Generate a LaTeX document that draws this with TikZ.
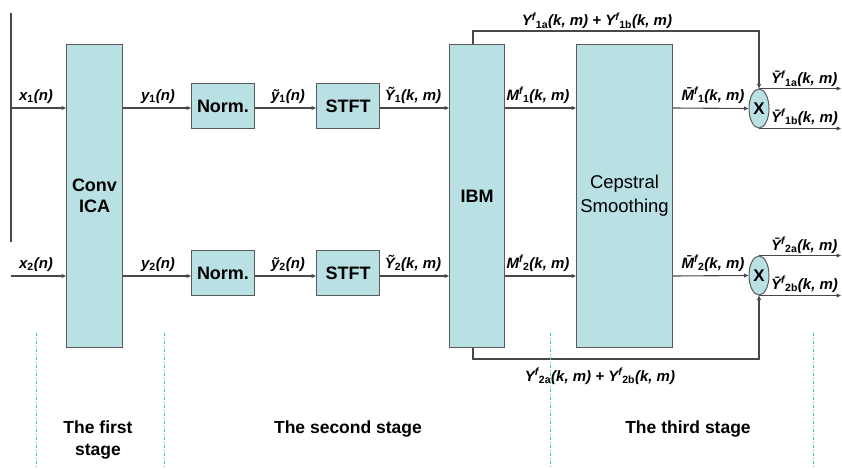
\documentclass[tikz,border=0pt]{standalone}
\usepackage{fontspec}
\setmainfont{Liberation Sans}
\usetikzlibrary{arrows.meta,shapes.geometric}
\definecolor{boxfill}{HTML}{B9E1E4}
\definecolor{boxline}{HTML}{5A5A5A}
\definecolor{wire}{HTML}{484848}
\definecolor{stagegreen}{HTML}{3CCB7F}
\newcommand\sbs[1]{\textsubscript{\upshape #1}}
\newcommand\spr[1]{\textsuperscript{#1}}
\begin{document}
\begin{tikzpicture}[x=1pt,y=-1pt,
  blk/.style={draw=boxline,line width=1pt,fill=boxfill,anchor=north west,inner sep=0pt,
    font=\fontsize{18}{21}\selectfont\bfseries,align=center},
  mult/.style={ellipse,draw=boxline,line width=1pt,fill=boxfill,minimum width=20pt,minimum height=39pt,
    inner sep=0pt,font=\fontsize{17}{20}\selectfont\bfseries},
  wr/.style={draw=wire,line width=1.1pt},
  arr/.style={wr,-{Triangle[length=4.5pt,width=3.8pt]}},
  lab/.style={anchor=base,inner sep=0pt,font=\fontsize{15}{18}\selectfont\bfseries\itshape},
  stg/.style={anchor=base,inner sep=0pt,font=\fontsize{17.5}{22}\selectfont\bfseries,align=center},
  sep/.style={draw=stagegreen,line width=0.9pt,dash pattern=on 3pt off 2pt on 1pt off 2pt}]
\useasboundingbox (0,0) rectangle (842,468);
% rows
\coordinate (r1) at (0,108);
\coordinate (r2) at (0,276);
% blocks
\node[blk,minimum width=56pt,minimum height=303pt] (ica) at (66,44) {Conv\\ICA};
\node[blk,minimum width=63pt,minimum height=45pt] (norm1) at (191,83) {Norm.};
\node[blk,minimum width=63pt,minimum height=45pt] (norm2) at (191,250) {Norm.};
\node[blk,minimum width=63pt,minimum height=45pt] (stft1) at (316,83) {STFT};
\node[blk,minimum width=63pt,minimum height=45pt] (stft2) at (316,250) {STFT};
\node[blk,minimum width=55pt,minimum height=303pt] (ibm) at (449,44) {IBM};
\node[blk,minimum width=96pt,minimum height=303pt,font=\fontsize{18.5}{24}\selectfont] (ceps) at (576,44) {Cepstral\\Smoothing};
\node[mult] (m1) at (759,108.5) {X};
\node[mult] (m2) at (759,275.5) {X};
% input side
\coordinate (lt) at (11,13);
\coordinate (lb) at (11,242);
\coordinate (in1) at (11,108);
\coordinate (in2) at (11,276);
\draw[wr] (lt) -- (lb);
\draw[arr] (in1) -- (in1 -| ica.west);
\draw[arr] (in2) -- (in2 -| ica.west);
% row 1
\draw[arr] (ica.east |- r1) -- (norm1.west |- r1);
\draw[arr] (norm1.east |- r1) -- (stft1.west |- r1);
\draw[arr] (stft1.east |- r1) -- (ibm.west |- r1);
\draw[arr] (ibm.east |- r1) -- (ceps.west |- r1);
\draw[arr] (ceps.east |- r1) -- (m1.west);
% row 2
\draw[arr] (ica.east |- r2) -- (norm2.west |- r2);
\draw[arr] (norm2.east |- r2) -- (stft2.west |- r2);
\draw[arr] (stft2.east |- r2) -- (ibm.west |- r2);
\draw[arr] (ibm.east |- r2) -- (ceps.west |- r2);
\draw[arr] (ceps.east |- r2) -- (m2.west);
% feedback paths
\coordinate (fb1) at (473,31);
\coordinate (fb2) at (473,359);
\draw[arr] (ibm.north -| fb1) -- (fb1) -- (fb1 -| m1.north) -- (m1.north);
\draw[arr] (ibm.south -| fb2) -- (fb2) -- (fb2 -| m2.south) -- (m2.south);
% outputs
\coordinate (o1a) at (841,89);
\coordinate (o1b) at (841,128);
\coordinate (o2a) at (841,256);
\coordinate (o2b) at (841,295);
\draw[arr] (m1.north) -- (m1.north -| o1a);
\draw[arr] (m1.south) -- (m1.south -| o1b);
\draw[arr] (m2.north) -- (m2.north -| o2a);
\draw[arr] (m2.south) -- (m2.south -| o2b);
% labels row 1
\node[lab] (lx1) at (36,100) {x\sbs{1}(n)};
\node[lab] (ly1) at (158,100) {y\sbs{1}(n)};
\node[lab] (lyt1) at (288,100) {\~{y}\sbs{1}(n)};
\node[lab] (lY1) at (413,100) {\~{Y}\sbs{1}(k, m)};
\node[lab] (lM1) at (538,100) {M\spr{f}\sbs{1}(k, m)};
\node[lab] (lMb1) at (713,100) {\={M}\spr{f}\sbs{1}(k, m)};
% labels row 2
\node[lab] (lx2) at (36,268) {x\sbs{2}(n)};
\node[lab] (ly2) at (158,268) {y\sbs{2}(n)};
\node[lab] (lyt2) at (288,268) {\~{y}\sbs{2}(n)};
\node[lab] (lY2) at (413,268) {\~{Y}\sbs{2}(k, m)};
\node[lab] (lM2) at (538,268) {M\spr{f}\sbs{2}(k, m)};
\node[lab] (lMb2) at (713,268) {\={M}\spr{f}\sbs{2}(k, m)};
% feedback labels
\node[lab] (ltop) at (597,26) {Y\spr{f}\sbs{1a}(k, m) + Y\spr{f}\sbs{1b}(k, m)};
\node[lab] (lbot) at (600,381) {Y\spr{f}\sbs{2a}(k, m) + Y\spr{f}\sbs{2b}(k, m)};
% output labels
\node[lab,anchor=base west] (lo1a) at (771,84) {\={Y}\spr{f}\sbs{1a}(k, m)};
\node[lab,anchor=base west] (lo1b) at (771,122) {\={Y}\spr{f}\sbs{1b}(k, m)};
\node[lab,anchor=base west] (lo2a) at (771,250) {\={Y}\spr{f}\sbs{2a}(k, m)};
\node[lab,anchor=base west] (lo2b) at (771,289) {\={Y}\spr{f}\sbs{2b}(k, m)};
% stage separators
\coordinate (s1t) at (36,333);  \coordinate (s1b) at (36,468);
\coordinate (s2t) at (164,333); \coordinate (s2b) at (164,468);
\coordinate (s3t) at (550,333); \coordinate (s3b) at (550,468);
\coordinate (s4t) at (813,333); \coordinate (s4b) at (813,468);
\draw[sep] (s1t) -- (s1b);
\draw[sep] (s2t) -- (s2b);
\draw[sep] (s3t) -- (s3b);
\draw[sep] (s4t) -- (s4b);
% stage labels
\node[stg] (st1) at (98,433) {The first};
\node[stg] (st1b) at (98,455) {stage};
\node[stg] (st2) at (348,433) {The second stage};
\node[stg] (st3) at (688,433) {The third stage};
\end{tikzpicture}
\end{document}
